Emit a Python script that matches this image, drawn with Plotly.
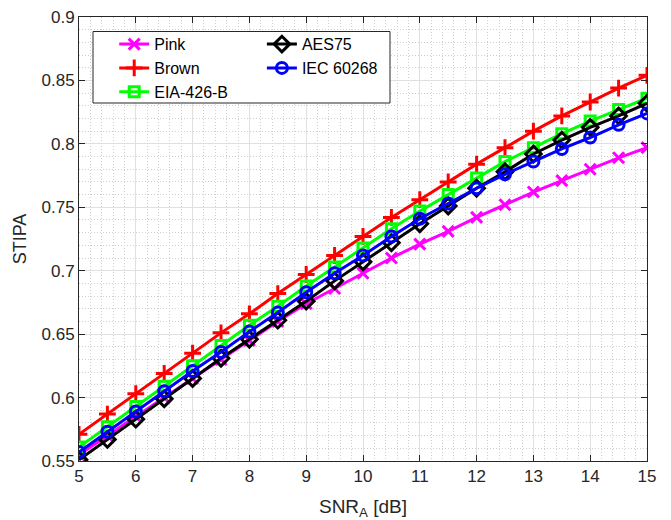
import plotly.graph_objects as go

# SNR_A in dB
snr = [5, 5.5, 6, 6.5, 7, 7.5, 8, 8.5, 9, 9.5, 10, 10.5, 11, 11.5, 12, 12.5, 13, 13.5, 14, 14.5, 15]

# STIPA values for each test-signal spectrum
pink = [0.555, 0.570, 0.585, 0.600, 0.615, 0.630, 0.645, 0.660, 0.674, 0.686, 0.698,
        0.710, 0.721, 0.731, 0.742, 0.752, 0.762, 0.771, 0.780, 0.789, 0.797]
brown = [0.571, 0.587, 0.603, 0.619, 0.635, 0.651, 0.666, 0.682, 0.697, 0.712, 0.727,
         0.742, 0.756, 0.770, 0.784, 0.797, 0.810, 0.822, 0.833, 0.844, 0.854]
eia = [0.561, 0.577, 0.593, 0.609, 0.625, 0.641, 0.657, 0.672, 0.688, 0.703, 0.718,
       0.733, 0.747, 0.760, 0.773, 0.786, 0.797, 0.808, 0.818, 0.827, 0.836]
aes75 = [0.551, 0.567, 0.583, 0.599, 0.615, 0.631, 0.646, 0.661, 0.676, 0.692, 0.707,
         0.722, 0.737, 0.751, 0.765, 0.778, 0.792, 0.803, 0.813, 0.822, 0.832]
iec = [0.557, 0.573, 0.589, 0.605, 0.621, 0.636, 0.652, 0.667, 0.683, 0.698, 0.712,
       0.727, 0.741, 0.753, 0.765, 0.776, 0.786, 0.796, 0.805, 0.815, 0.824]

x_ticks = [5, 6, 7, 8, 9, 10, 11, 12, 13, 14, 15]
y_ticks = [0.55, 0.6, 0.65, 0.7, 0.75, 0.8, 0.85, 0.9]
y_ticktext = ["0.55", "0.6", "0.65", "0.7", "0.75", "0.8", "0.85", "0.9"]

FONT = "Liberation Sans, Arial, Helvetica, sans-serif"
AXIS_COLOR = "#262626"

series = [
    ("Pink", pink, "#ff00ff", "x-thin-open", 11, "legend"),
    ("Brown", brown, "#ff0000", "cross-thin-open", 12, "legend"),
    ("EIA-426-B", eia, "#00ff00", "square-open", 10, "legend"),
    ("AES75", aes75, "#000000", "diamond-open", 12, "legend2"),
    ("IEC 60268", iec, "#0000ff", "circle-open", 11, "legend2"),
]

fig = go.Figure()
for name, vals, color, symbol, size, leg in series:
    fig.add_trace(go.Scatter(
        x=snr, y=vals, name=name, mode="lines+markers",
        line=dict(color=color, width=3),
        marker=dict(symbol=symbol, size=size, color=color,
                    line=dict(color=color, width=3)),
        legend=leg,
    ))

axis_common = dict(
    showline=True, linecolor=AXIS_COLOR, linewidth=1, mirror="ticks",
    ticks="inside", ticklen=6, tickcolor=AXIS_COLOR, tickwidth=1,
    showgrid=True, gridcolor="#e0e0e0", gridwidth=1,
    zeroline=False, automargin=False,
    tickfont=dict(family=FONT, size=17, color=AXIS_COLOR),
)

minor_grid = dict(showgrid=True, griddash="1px,2px", gridcolor="#cfcfcf", gridwidth=1)

fig.update_xaxes(
    range=[5, 15], tickvals=x_ticks,
    minor=dict(dtick=0.2, **minor_grid),
    title=dict(text="SNR<sub>A</sub> [dB]", font=dict(family=FONT, size=19, color=AXIS_COLOR), standoff=18),
    **axis_common,
)
fig.update_yaxes(
    range=[0.55, 0.9], tickvals=y_ticks, ticktext=y_ticktext,
    minor=dict(dtick=0.01, **minor_grid),
    title=dict(text="STIPA", font=dict(family=FONT, size=18, color=AXIS_COLOR), standoff=10),
    **axis_common,
)

legend_font = dict(family=FONT, size=16, color="#000000")
fig.update_layout(
    width=671, height=520,
    margin=dict(l=79, r=24, t=17, b=59),
    paper_bgcolor="white", plot_bgcolor="white",
    legend=dict(x=0.062, y=0.977, xanchor="left", yanchor="top",
                bgcolor="rgba(0,0,0,0)", borderwidth=0, font=legend_font,
                tracegroupgap=0, itemwidth=30),
    legend2=dict(x=0.322, y=0.977, xanchor="left", yanchor="top",
                 bgcolor="rgba(0,0,0,0)", borderwidth=0, font=legend_font,
                 tracegroupgap=0, itemwidth=30),
    shapes=[dict(type="rect", xref="paper", yref="paper",
                 x0=(93 - 79) / 568, x1=(390 - 79) / 568,
                 y0=1 - (103 - 17) / 444, y1=1 - (31.5 - 17) / 444,
                 line=dict(color=AXIS_COLOR, width=1), fillcolor="white", layer="above")],
    showlegend=True,
)

fig.write_html("out.html")
